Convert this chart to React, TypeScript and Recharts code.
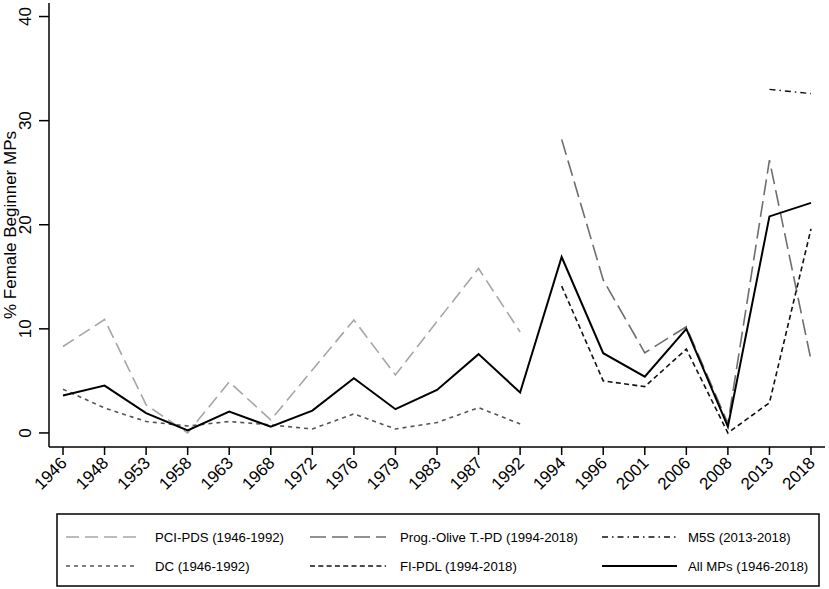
import React from 'react';
import { LineChart, Line, XAxis, YAxis } from 'recharts';

const years = ['1946', '1948', '1953', '1958', '1963', '1968', '1972', '1976', '1979', '1983', '1987', '1992', '1994', '1996', '2001', '2006', '2008', '2013', '2018'];

const pciPds = [8.3, 10.9, 2.7, 0.0, 4.9, 1.25, 6.05, 10.85, 5.57, 10.7, 15.8, 9.7, null, null, null, null, null, null, null];
const progOlive = [null, null, null, null, null, null, null, null, null, null, null, null, 28.2, 14.7, 7.7, 10.2, 0.9, 26.2, 7.0];
const m5s = [null, null, null, null, null, null, null, null, null, null, null, null, null, null, null, null, null, 33.0, 32.6];
const dc = [4.2, 2.4, 1.1, 0.67, 1.1, 0.77, 0.38, 1.83, 0.38, 1.0, 2.43, 0.87, null, null, null, null, null, null, null];
const fiPdl = [null, null, null, null, null, null, null, null, null, null, null, null, 14.1, 5.0, 4.45, 8.05, 0.0, 2.9, 19.6];
const allMps = [3.6, 4.55, 1.9, 0.25, 2.05, 0.6, 2.15, 5.26, 2.28, 4.13, 7.57, 3.88, 16.9, 7.66, 5.4, 10.0, 0.6, 20.8, 22.1];

const yTicks = [0, 10, 20, 30, 40];

const FONT = '"Liberation Sans", Arial, Helvetica, sans-serif';

const series = [
  { key: 'pciPds', name: 'PCI-PDS (1946-1992)', color: '#a6a6a6', dash: '13 6', width: 1.6 },
  { key: 'progOlive', name: 'Prog.-Olive T.-PD (1994-2018)', color: '#6e6e6e', dash: '16 6', width: 1.6 },
  { key: 'm5s', name: 'M5S (2013-2018)', color: '#111111', dash: '6 4 1.5 4', width: 1.4 },
  { key: 'dc', name: 'DC (1946-1992)', color: '#555555', dash: '4 4', width: 1.6 },
  { key: 'fiPdl', name: 'FI-PDL (1994-2018)', color: '#111111', dash: '5 3.3', width: 1.6 },
  { key: 'allMps', name: 'All MPs (1946-2018)', color: '#000000', dash: undefined, width: 2 },
];

const data = years.map((year, i) => ({
  year,
  pciPds: pciPds[i],
  progOlive: progOlive[i],
  m5s: m5s[i],
  dc: dc[i],
  fiPdl: fiPdl[i],
  allMps: allMps[i],
}));

const XTick = (props: any) => {
  const { x, payload } = props;
  const tx = x + 5;
  const ty = 464;
  return (
    <text
      x={tx}
      y={ty}
      textAnchor="end"
      fontSize={17}
      fontFamily={FONT}
      fill="#000"
      style={{ fontSize: '17px' }}
      transform={`rotate(-45, ${tx}, ${ty})`}
    >
      {payload.value}
    </text>
  );
};

const YTick = (props: any) => {
  const { y, payload } = props;
  return (
    <text x={26} y={y} textAnchor="middle" dominantBaseline="central" fontSize={17} fontFamily={FONT} fill="#000" transform={`rotate(-90, 26, ${y})`}>
      {payload.value}
    </text>
  );
};

const YTitle = () => (
  <text x={10} y={225} textAnchor="middle" dominantBaseline="central" fontSize={17} fontFamily={FONT} fill="#000" transform="rotate(-90, 10, 225)">
    % Female Beginner MPs
  </text>
);

// legend columns: swatch start, swatch end, text start
const legendCols = [
  [66, 137, 155],
  [310, 386, 400],
  [602, 677, 688],
];
const legendRows = [537, 566];

const LegendBox = () => (
  <svg width={829} height={589} style={{ position: 'absolute', left: 0, top: 0, pointerEvents: 'none' }}>
    <rect x={57} y={514} width={762} height={72} fill="none" stroke="#000" strokeWidth={1.5} />
    {series.map((s, i) => {
      const [x1, x2, tx] = legendCols[i % 3];
      const y = legendRows[Math.floor(i / 3)];
      return (
        <g key={s.key}>
          <line x1={x1} x2={x2} y1={y} y2={y} stroke={s.color} strokeWidth={s.width} strokeDasharray={s.dash} />
          <text x={tx} y={y} dominantBaseline="central" fontSize={13.2} fontFamily={FONT} fill="#000">
            {s.name}
          </text>
        </g>
      );
    })}
  </svg>
);

export default function App() {
  return (
    <div style={{ position: 'absolute', left: 0, top: 0, width: 829, height: 589, background: '#fff' }}>
      <LineChart width={829} height={589} data={data} margin={{ top: 3, right: 4, left: 0, bottom: 0 }}>
        <XAxis
          dataKey="year"
          height={142}
          padding={{ left: 14, right: 14 }}
          interval={0}
          tickSize={8}
          tick={<XTick />}
          axisLine={{ stroke: '#000', strokeWidth: 1.5 }}
          tickLine={{ stroke: '#000', strokeWidth: 1.5 }}
        />
        <YAxis
          width={49}
          domain={[-1.35, 41.3]}
          ticks={yTicks}
          allowDataOverflow
          tickSize={10}
          tick={<YTick />}
          axisLine={{ stroke: '#000', strokeWidth: 1.5 }}
          tickLine={{ stroke: '#000', strokeWidth: 1.5 }}
          label={{ content: () => <YTitle /> }}
        />
        {series.map((s) => (
          <Line
            key={s.key}
            type="linear"
            dataKey={s.key}
            name={s.name}
            stroke={s.color}
            strokeWidth={s.width}
            strokeDasharray={s.dash}
            dot={false}
            activeDot={false}
            connectNulls={false}
            isAnimationActive={false}
          />
        ))}
      </LineChart>
      <LegendBox />
    </div>
  );
}
